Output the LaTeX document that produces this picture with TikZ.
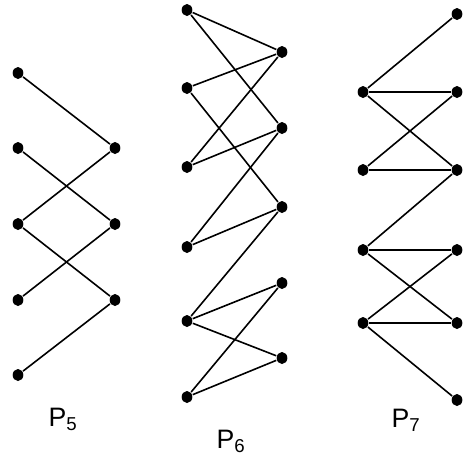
\documentclass[tikz,border=0pt]{standalone}
\usepackage{fontspec}
\setmainfont{Liberation Sans}
\usepackage{tikz}

\tikzset{
  vtx/.style={ellipse,fill=black,inner sep=0pt,minimum width=8pt,minimum height=9pt},
  lbl/.style={font=\fontsize{20}{23}\selectfont}
}
\usetikzlibrary{shapes.geometric}

\begin{document}
\begin{tikzpicture}[x=0.75pt,y=-0.75pt,line width=1.2pt]
    \useasboundingbox (0,0) rectangle (463,461);
    % P5
    \node[vtx] (a1) at (18,73) {};
    \node[vtx] (a2) at (18,148) {};
    \node[vtx] (a3) at (18,224) {};
    \node[vtx] (a4) at (18,300) {};
    \node[vtx] (a5) at (18,375) {};
    \node[vtx] (b1) at (115,148) {};
    \node[vtx] (b2) at (115,224) {};
    \node[vtx] (b3) at (115,300) {};
    \draw (a1) -- (b1);
    \draw (a2) -- (b2);
    \draw (b1) -- (a3);
    \draw (a3) -- (b3);
    \draw (b2) -- (a4);
    \draw (b3) -- (a5);
    \node[lbl] (p5) at (63,419) {P\textsubscript{5}};
    % P6
    \node[vtx] (c1) at (187,10) {};
    \node[vtx] (c2) at (187,88) {};
    \node[vtx] (c3) at (187,167) {};
    \node[vtx] (c4) at (187,247) {};
    \node[vtx] (c5) at (187,321) {};
    \node[vtx] (c6) at (187,397) {};
    \node[vtx] (d1) at (282,52) {};
    \node[vtx] (d2) at (282,128) {};
    \node[vtx] (d3) at (282,207) {};
    \node[vtx] (d4) at (282,283) {};
    \node[vtx] (d5) at (282,358) {};
    \draw (c1) -- (d1);
    \draw (c1) -- (d2);
    \draw (d1) -- (c2);
    \draw (c2) -- (d3);
    \draw (d1) -- (c3);
    \draw (c3) -- (d2);
    \draw (d2) -- (c4);
    \draw (c4) -- (d3);
    \draw (d3) -- (c5);
    \draw (c5) -- (d4);
    \draw (c5) -- (d5);
    \draw (d4) -- (c6);
    \draw (c6) -- (d5);
    \node[lbl] (p6) at (231,441) {P\textsubscript{6}};
    % P7
    \node[vtx] (e1) at (363,92) {};
    \node[vtx] (e2) at (363,170) {};
    \node[vtx] (e3) at (363,250) {};
    \node[vtx] (e4) at (363,323) {};
    \node[vtx] (f0) at (457,14) {};
    \node[vtx] (f1) at (457,92) {};
    \node[vtx] (f2) at (457,170) {};
    \node[vtx] (f3) at (457,250) {};
    \node[vtx] (f4) at (457,323) {};
    \node[vtx] (f5) at (457,400) {};
    \draw (e1) -- (f0);
    \draw (e1) -- (f1);
    \draw (e1) -- (f2);
    \draw (e2) -- (f1);
    \draw (e2) -- (f2);
    \draw (f2) -- (e3);
    \draw (e3) -- (f3);
    \draw (e3) -- (f4);
    \draw (e4) -- (f3);
    \draw (e4) -- (f4);
    \draw (e4) -- (f5);
    \node[lbl] (p7) at (406,420) {P\textsubscript{7}};
\end{tikzpicture}
\end{document}
